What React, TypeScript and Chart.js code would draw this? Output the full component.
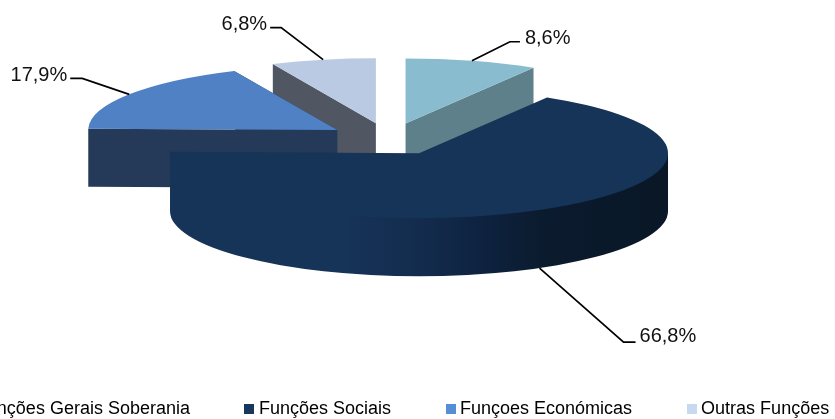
import React, { useEffect, useRef } from "react";
import { Chart, registerables } from "chart.js";

Chart.register(...registerables);

const categories = ["Funções Gerais Soberania", "Funções Sociais", "Funçoes Económicas", "Outras Funções"];
const shares = [8.6, 66.8, 17.9, 6.8];
const topColors = ["#88BCCE", "#163358", "#4F81C4", "#B9CAE2"];
const wallColors = ["#5E808A", "#163358", "#253A58", "#505763"];
const legendColors = ["#93CDDD", "#17375E", "#558ED5", "#C6D9F1"];
// Paint order of the side walls: back slices first, the large slice last.
const wallOrder = [0, 3, 2, 1];
// Leader line per slice: elbow and stub end relative to the slice's rim point, then text gap and y shift.
const leaders = [
  { elbow: [38, -19], stub: [48, -19], gap: 5, dy: -3, align: "left" },
  { elbow: [84, 74], stub: [96, 74], gap: 4, dy: -6, align: "left" },
  { elbow: [-47, -16], stub: [-59, -16], gap: -3, dy: -3, align: "right" },
  { elbow: [-42, -32], stub: [-53, -32], gap: -3, dy: -3, align: "right" },
];

const WIDTH = 835;
const HEIGHT = 419;
const SHIFT_X = 100; // canvas extends past the window's left edge: the legend is cropped there
const CANVAS_W = 995;
const CANVAS_H = 428;
const RADIUS = 249;
const SQUASH = 65 / 249;
const DEPTH = 58;
const EXPLODE = 62;
const CENTER_X = 389 + SHIFT_X;
const CENTER_Y = 139;
const FONT = '"Liberation Sans", Arial, sans-serif';

const pie3d = {
  id: "pie3d",
  afterDatasetsUpdate(chart: any) {
    chart.getDatasetMeta(0).data.forEach((arc: any) => {
      const mid = (arc.startAngle + arc.endAngle) / 2;
      arc.x = CENTER_X + Math.cos(mid) * EXPLODE;
      arc.y = CENTER_Y / SQUASH + Math.sin(mid) * EXPLODE;
      arc.innerRadius = 0;
      arc.outerRadius = RADIUS;
    });
  },
  beforeDatasetsDraw(chart: any) {
    const ctx = chart.ctx;
    const arcs = chart.getDatasetMeta(0).data;
    wallOrder.forEach((i) => {
      const a = arcs[i];
      const cx = a.x;
      const cy = a.y * SQUASH;
      const ry = RADIUS * SQUASH;
      const pt = (t: number) => [cx + RADIUS * Math.cos(t), cy + ry * Math.sin(t)];
      ctx.save();
      ctx.fillStyle = wallColors[i];
      const quad = (t: number) => {
        const p = pt(t);
        ctx.beginPath();
        ctx.moveTo(cx, cy);
        ctx.lineTo(p[0], p[1]);
        ctx.lineTo(p[0], p[1] + DEPTH);
        ctx.lineTo(cx, cy + DEPTH);
        ctx.closePath();
        ctx.fill();
      };
      if (i !== 1) {
        quad(a.startAngle);
        quad(a.endAngle);
      } else {
        const g = ctx.createLinearGradient(cx - RADIUS, 0, cx + RADIUS, 0);
        g.addColorStop(0, "#163358");
        g.addColorStop(0.35, "#163358");
        g.addColorStop(0.5, "#132C4E");
        g.addColorStop(0.62, "#0E2340");
        g.addColorStop(0.75, "#0B1B2E");
        g.addColorStop(1, "#091726");
        ctx.fillStyle = g;
        const a0 = Math.max(a.startAngle, 0);
        const a1 = Math.min(a.endAngle, Math.PI);
        ctx.beginPath();
        // the wall's upper rim sits a little under the top face, so no seam shows
        ctx.ellipse(cx, cy - 3, RADIUS, ry, 0, a0, a1);
        ctx.ellipse(cx, cy + DEPTH, RADIUS, ry, 0, a1, a0, true);
        ctx.closePath();
        ctx.fill();
      }
      ctx.restore();
    });
    ctx.save();
    ctx.scale(1, SQUASH);
  },
  afterDatasetsDraw(chart: any) {
    const ctx = chart.ctx;
    ctx.restore();
    const arcs = chart.getDatasetMeta(0).data;
    ctx.save();
    ctx.strokeStyle = "#000";
    ctx.lineWidth = 1.7;
    ctx.fillStyle = "#111";
    ctx.font = `20px ${FONT}`;
    ctx.textBaseline = "middle";
    arcs.forEach((a: any, i: number) => {
      const mid = (a.startAngle + a.endAngle) / 2;
      const sx = a.x + RADIUS * Math.cos(mid);
      const sy = (a.y + RADIUS * Math.sin(mid)) * SQUASH + (i === 1 ? DEPTH : 0);
      const L = leaders[i];
      ctx.beginPath();
      ctx.moveTo(sx, sy);
      ctx.lineTo(sx + L.elbow[0], sy + L.elbow[1]);
      ctx.lineTo(sx + L.stub[0], sy + L.stub[1]);
      ctx.stroke();
      ctx.textAlign = L.align;
      ctx.fillText(
        shares[i].toFixed(1).replace(".", ",") + "%",
        sx + L.stub[0] + L.gap,
        sy + L.stub[1] + L.dy
      );
    });
    ctx.restore();
  },
};

function swatch(color: string) {
  const c = document.createElement("canvas");
  c.width = 10;
  c.height = 10;
  const x = c.getContext("2d")!;
  x.fillStyle = color;
  x.fillRect(0, 0, 10, 10);
  return c;
}

export default function App() {
  const ref = useRef<HTMLCanvasElement>(null);
  useEffect(() => {
    const chart = new Chart(ref.current!, {
      type: "pie",
      plugins: [pie3d],
      data: {
        labels: categories,
        datasets: [
          {
            data: shares,
            backgroundColor: topColors,
            borderWidth: 0,
            clip: false,
          } as any,
        ],
      },
      options: {
        responsive: false,
        animation: false,
        events: [],
        devicePixelRatio: 1,
        plugins: {
          tooltip: { enabled: false },
          legend: {
            position: "bottom",
            labels: {
              color: "#111",
              font: { family: FONT, size: 18 },
              padding: 59,
              usePointStyle: true,
              pointStyleWidth: 1,
              generateLabels: () =>
                categories.map((text, i) => ({
                  text,
                  fillStyle: legendColors[i],
                  strokeStyle: legendColors[i],
                  lineWidth: 0,
                  hidden: false,
                  index: i,
                  pointStyle: swatch(legendColors[i]),
                })),
            },
          },
        },
      } as any,
    });
    return () => chart.destroy();
  }, []);
  return (
    <div
      style={{
        position: "fixed",
        left: 0,
        top: 0,
        width: WIDTH,
        height: HEIGHT,
        overflow: "hidden",
        background: "#fff",
      }}
    >
      <canvas
        ref={ref}
        width={CANVAS_W}
        height={CANVAS_H}
        style={{ position: "absolute", left: -SHIFT_X, top: 0, width: CANVAS_W, height: CANVAS_H }}
      />
    </div>
  );
}
